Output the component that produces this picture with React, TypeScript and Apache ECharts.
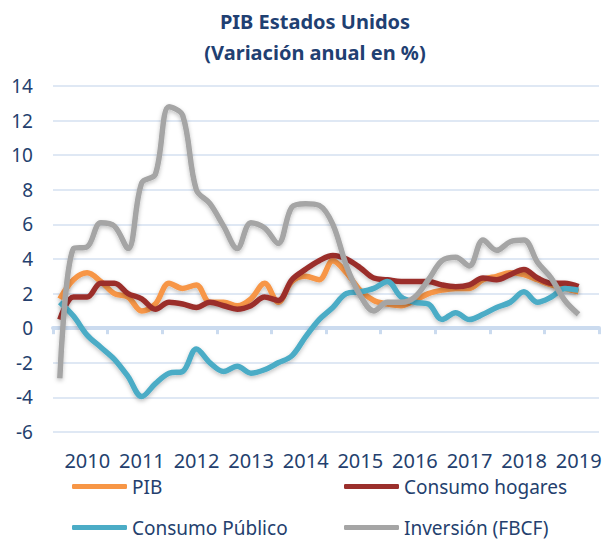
import React, { useEffect, useRef } from "react";
import * as echarts from "echarts";

const years = ["2010", "2011", "2012", "2013", "2014", "2015", "2016", "2017", "2018", "2019"];
const quarters: string[] = [];
for (const y of years) for (const q of ["T1", "T2", "T3", "T4"]) quarters.push(y + q);

const pib = [1.7, 2.8, 3.2, 2.7, 2.0, 1.8, 1.0, 1.4, 2.6, 2.3, 2.5, 1.5, 1.5, 1.3, 1.7, 2.6, 1.5, 2.7, 3.0, 2.8, 3.9, 3.2, 2.2, 1.6, 1.4, 1.3, 1.6, 2.0, 2.2, 2.3, 2.3, 2.8, 3.0, 3.2, 3.1, 2.8, 2.5, 2.3, 2.1];
const consumoHogares = [0.5, 1.8, 1.8, 2.6, 2.6, 2.0, 1.7, 1.1, 1.5, 1.4, 1.2, 1.5, 1.3, 1.1, 1.3, 1.8, 1.6, 2.8, 3.4, 3.9, 4.2, 4.0, 3.5, 2.9, 2.8, 2.7, 2.7, 2.7, 2.5, 2.4, 2.5, 2.9, 2.8, 3.1, 3.4, 2.9, 2.6, 2.6, 2.4];
const consumoPublico = [1.5, 0.7, -0.4, -1.1, -1.8, -2.8, -3.95, -3.2, -2.6, -2.5, -1.2, -2.0, -2.5, -2.2, -2.6, -2.4, -2.0, -1.6, -0.5, 0.5, 1.2, 2.0, 2.1, 2.3, 2.7, 1.8, 1.5, 1.4, 0.5, 0.9, 0.5, 0.8, 1.2, 1.5, 2.1, 1.5, 1.8, 2.3, 2.2];
const inversion = [-2.9, 4.6, 4.7, 6.1, 5.9, 4.6, 8.4, 8.9, 12.8, 12.3, 8.0, 7.2, 5.9, 4.6, 6.1, 5.8, 4.9, 7.0, 7.2, 7.1, 6.0, 3.6, 1.9, 1.0, 1.5, 1.5, 1.8, 2.8, 3.9, 4.1, 3.6, 5.1, 4.5, 5.0, 5.1, 3.8, 2.9, 1.6, 0.8];

const textColor = "#243f6e";
const gridColor = "#d5e1f0";
const font = "Noto Sans";

export default function App() {
  const ref = useRef<HTMLDivElement>(null);
  useEffect(() => {
    if (!ref.current) return;
    const chart = echarts.init(ref.current, null, { renderer: "svg" });
    const seriesDefs = [
      { name: "PIB", data: pib, color: "#f79646" },
      { name: "Consumo hogares", data: consumoHogares, color: "#9b2f2c" },
      { name: "Consumo Público", data: consumoPublico, color: "#4bacc6" },
      { name: "Inversión (FBCF)", data: inversion, color: "#a5a5a5" },
    ];
    const legendPos = [
      { left: 72, top: 477 },
      { left: 344, top: 477 },
      { left: 72, top: 518 },
      { left: 344, top: 518 },
    ];
    chart.setOption({
      animation: false,
      backgroundColor: "#ffffff",
      title: {
        text: "PIB Estados Unidos\n(Variación anual en %)",
        left: 315,
        top: 6,
        padding: 0,
        textAlign: "center",
        textStyle: {
          fontFamily: font,
          fontSize: 20,
          fontWeight: "bold",
          color: "#1f4072",
          lineHeight: 31,
        },
      },
      legend: seriesDefs.map((s, i) => ({
        data: [s.name],
        left: legendPos[i].left,
        top: legendPos[i].top,
        padding: 0,
        icon: "roundRect",
        itemWidth: 55,
        itemHeight: 5,
        textStyle: { fontFamily: font, fontSize: 19, color: textColor },
      })),
      grid: { left: 53, right: 7, top: 86, bottom: 108, containLabel: false },
      xAxis: [
        {
          type: "category",
          data: years,
          boundaryGap: true,
          position: "bottom",
          axisLine: { show: false, onZero: false },
          axisTick: { show: false },
          splitLine: { show: false },
          axisLabel: {
            fontFamily: font,
            fontSize: 20,
            color: textColor,
            margin: 18,
            interval: 0,
            padding: [0, 0, 0, 14],
          },
        },
        {
          type: "category",
          data: years,
          boundaryGap: true,
          position: "bottom",
          axisLine: { show: true, onZero: true, lineStyle: { color: "#cbdbef", width: 4 } },
          axisTick: { show: true, length: 6, lineStyle: { color: "#cbdbef", width: 3 } },
          axisLabel: { show: false },
          splitLine: { show: false },
        },
        {
          type: "category",
          data: quarters,
          boundaryGap: true,
          show: false,
        },
      ],
      yAxis: {
        type: "value",
        min: -6,
        max: 14,
        interval: 2,
        axisLine: { show: false },
        axisTick: { show: false },
        axisLabel: { fontFamily: font, fontSize: 19, color: textColor, margin: 20 },
        splitLine: { lineStyle: { color: gridColor, width: 1.5 } },
      },
      series: seriesDefs.map((s) => ({
        name: s.name,
        type: "line",
        xAxisIndex: 2,
        data: s.data,
        smooth: 0.35,
        symbol: "none",
        color: s.color,
        lineStyle: {
          width: 5.5,
          color: s.color,
          shadowColor: "rgba(0,0,0,0.25)",
          shadowBlur: 4,
          shadowOffsetY: 2,
        },
      })),
    });
    return () => chart.dispose();
  }, []);
  return <div ref={ref} style={{ width: 606, height: 540, position: "absolute", left: 0, top: 0 }} />;
}
